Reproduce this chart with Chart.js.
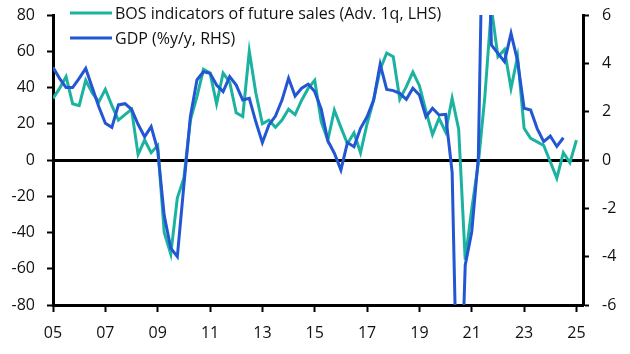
<!DOCTYPE html>
<html>
<head>
<meta charset="utf-8">
<script src="https://cdn.jsdelivr.net/npm/chart.js@4"></script>
<style>
  body { margin: 0; background: #fff; }
  #wrap { width: 630px; height: 354px; }
</style>
</head>
<body>
<div id="wrap"><canvas id="chart" width="630" height="354"></canvas></div>
<script>
// quarters plotted at quarter end, first one sits on the "05" tick
const firstYear = 2004;
const quarterCount = 82;
const yearTicks = ['05', '07', '09', '11', '13', '15', '17', '19', '21', '23', '25'];

// BOS indicator of future sales, advanced 1q (LHS)
const bosSales = [
  34, 39.5, 46, 31, 30, 44, 37, 32, 39, 30, 22, 25, 28, 3, 11, 4, 8,
  -40, -52, -21, -10, 22, 35, 50, 48, 31, 48, 43, 26, 24, 60, 37, 20,
  22, 18, 22, 28, 25, 33, 39.5, 44, 21, 11, 27.5, 18, 9, 15, 4, 20,
  33, 50, 59, 57, 33.5, 40.5, 48.5, 41, 27, 14, 23, 15.5, 34, 17,
  -55, -27, -2, 35, 84, 57, 61, 39.5, 57, 17.5, 12, 10, 8, -1, -10, 4, -1.5, 11
];

// GDP %y/y (RHS)
const gdp = [
  3.84, 3.38, 3.0, 3.0, 3.38, 3.79, 3.0, 2.2, 1.52, 1.35, 2.28, 2.33, 2.1, 1.48, 0.96, 1.38, 0.41,
  -2.3, -3.65, -4.0, -1.05, 1.8, 3.31, 3.65, 3.59, 3.1, 2.83, 3.45, 3.1, 2.48, 2.55, 1.58, 0.72,
  1.45, 1.82, 2.48, 3.38, 2.65, 2.97, 3.14, 2.83, 2.1, 0.8, 0.28, -0.41, 0.72, 0.55, 1.31, 1.79,
  2.48, 3.96, 2.92, 2.87, 2.76, 2.51, 2.97, 2.69, 1.79, 2.14, 1.86, 1.89, -0.5, -12.9,
  -4.35, -2.97, 0.1, 15, 4.76, 4.41, 4.07, 5.24, 4.1, 2.14, 2.07, 1.3, 0.76, 0.99, 0.56, 0.92
];

const quarters = [];
for (let i = 0; i < quarterCount; i++) {
  const q = (3 + i) % 4 + 1;
  const y = firstYear + Math.floor((3 + i) / 4);
  quarters.push(y + 'Q' + q);
}

const TEAL = '#1bb3a0';
const BLUE = '#2356d2';
const FONT = { family: '"Open Sans", sans-serif', size: 16 };

// legend drawn over the plot, top left
const topLegend = {
  id: 'topLegend',
  afterDraw(chart) {
    const c = chart.ctx;
    c.save();
    c.font = '16px "Open Sans", sans-serif';
    c.textBaseline = 'middle';
    chart.data.datasets.forEach((ds, i) => {
      const y = 13 + i * 25;
      c.strokeStyle = ds.borderColor;
      c.lineWidth = 3;
      c.beginPath();
      c.moveTo(70, y);
      c.lineTo(112, y);
      c.stroke();
      c.fillStyle = '#111';
      c.fillText(ds.label, 115, y + 1);
    });
    c.restore();
  }
};

// fixed axis boxes so the plot sits where the original does
function fixBox(size, key) {
  return s => {
    s[key] = size;
    s.paddingTop = 0;
    s.paddingBottom = 0;
    s.paddingLeft = 0;
    s.paddingRight = 0;
  };
}

new Chart(document.getElementById('chart'), {
  type: 'line',
  data: {
    labels: quarters,
    datasets: [
      {
        label: 'BOS indicators of future sales (Adv. 1q, LHS)',
        data: bosSales,
        borderColor: TEAL,
        borderWidth: 3,
        pointRadius: 0,
        tension: 0,
        yAxisID: 'y',
        order: 1,
        clip: 0
      },
      {
        label: 'GDP (%y/y, RHS)',
        data: gdp,
        borderColor: BLUE,
        borderWidth: 3,
        pointRadius: 0,
        tension: 0,
        yAxisID: 'y1',
        order: 0,
        clip: 0
      }
    ]
  },
  options: {
    responsive: false,
    animation: false,
    layout: { padding: { top: 15, left: 0, right: 0, bottom: 0 } },
    plugins: { legend: { display: false }, tooltip: { enabled: false } },
    scales: {
      x: {
        type: 'category',
        offset: false,
        afterFit: fixBox(49, 'height'),
        border: { display: true, color: '#000', width: 3 },
        grid: {
          drawOnChartArea: false,
          drawTicks: true,
          tickLength: 7,
          tickWidth: 2,
          tickColor: ctx => (ctx.index % 8 === 0 ? '#000' : 'rgba(0,0,0,0)')
        },
        ticks: {
          autoSkip: false,
          maxRotation: 0,
          padding: 12,
          color: '#111',
          font: FONT,
          callback: (v, i) => (i % 8 === 0 ? yearTicks[i / 8] : '')
        }
      },
      y: {
        position: 'left',
        min: -80,
        max: 80,
        afterFit: fixBox(53, 'width'),
        border: { display: true, color: '#000', width: 3 },
        grid: {
          drawOnChartArea: true,
          tickLength: 6,
          tickWidth: 2,
          tickColor: '#000',
          lineWidth: 3,
          color: ctx => (ctx.tick && ctx.tick.value === 0 ? '#000' : 'rgba(0,0,0,0)')
        },
        ticks: { stepSize: 20, padding: 12, color: '#111', font: FONT }
      },
      y1: {
        position: 'right',
        min: -6,
        max: 6,
        afterFit: fixBox(47, 'width'),
        border: { display: true, color: '#000', width: 3 },
        grid: {
          drawOnChartArea: false,
          tickLength: 6,
          tickWidth: 2,
          tickColor: '#000'
        },
        ticks: { stepSize: 2, padding: 13, color: '#111', font: FONT }
      }
    }
  },
  plugins: [topLegend]
});
</script>
</body>
</html>
